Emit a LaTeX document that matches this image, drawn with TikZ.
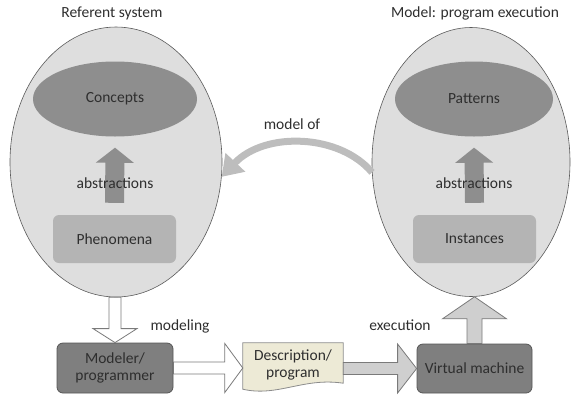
\documentclass[tikz,border=0pt]{standalone}
\usepackage{fontspec}
\setmainfont{Carlito}
\usetikzlibrary{shapes.geometric,calc,arrows.meta}

\definecolor{txtgray}{HTML}{2E2E2E}
\definecolor{worldgray}{HTML}{DEDEDE}
\definecolor{edgegray}{HTML}{5A5A5A}
\definecolor{ideagray}{HTML}{8E8E8E}
\definecolor{levelgray}{HTML}{B4B4B4}
\definecolor{actorgray}{HTML}{7F7F7F}
\definecolor{actoredge}{HTML}{555555}
\definecolor{docfill}{HTML}{EDEAD6}
\definecolor{docedge}{HTML}{8C8C8C}
\definecolor{flowgray}{HTML}{CFCFCF}
\definecolor{flowedge}{HTML}{7A7A7A}
\definecolor{arcgray}{HTML}{BDBDBD}

% block arrow: [style]{from}{to}{shaft half}{head half}{head length}
\newcommand{\blockarrow}[6][]{%
  \coordinate (ba-base) at ($(#3)!#6!(#2)$);
  \draw[#1] ($(#2)!#4!90:(#3)$) -- ($(ba-base)!#4!90:(#3)$) -- ($(ba-base)!#5!90:(#3)$) -- (#3)
    -- ($(ba-base)!#5!-90:(#3)$) -- ($(ba-base)!#4!-90:(#3)$) -- ($(#2)!#4!-90:(#3)$) -- cycle;}

\begin{document}
\begin{tikzpicture}[x=1pt,y=1pt,font=\fontsize{15.5}{17.5}\selectfont,text=txtgray,
    world/.style={ellipse,draw=edgegray,line width=0.6pt,fill=worldgray,inner sep=0pt},
    idea/.style={ellipse,fill=ideagray,inner sep=0pt,minimum height=75pt},
    level/.style={rectangle,rounded corners=6pt,fill=levelgray,minimum width=123pt,minimum height=48pt},
    actor/.style={rectangle,rounded corners=6pt,fill=actorgray,draw=actoredge,line width=0.8pt,
      minimum width=116pt,minimum height=50pt,align=center},
    rise/.style={fill=ideagray,draw=none},
    hollow/.style={fill=white,draw=flowedge,line width=0.8pt},
    solid/.style={fill=flowgray,draw=flowedge,line width=0.8pt}]
    \useasboundingbox (0,0) rectangle (572,-397);

    \node (ref) [world, minimum width=212pt, minimum height=270pt] at (116,-162) {};
    \node (mod) [world, minimum width=198pt, minimum height=269pt] at (471,-162) {};
    \node (reftitle) at (112,-13) {Referent system};
    \node (modtitle) at (475,-13) {Model: program execution};

    \node (concepts) [idea, minimum width=164pt] at (115,-99) {Concepts};
    \node (patterns) [idea, minimum width=158pt] at (474,-99) {Patterns};
    \node (phen) [level] at (114.5,-239) {Phenomena};
    \node (inst) [level] at (474.5,-239) {Instances};

    \coordinate (refbot) at ($(phen.north)+(0,12)$);
    \coordinate (reftop) at ($(concepts.south)+(0,-11)$);
    \coordinate (modbot) at ($(inst.north)+(0,12)$);
    \coordinate (modtop) at ($(patterns.south)+(0,-11)$);
    \blockarrow[rise]{refbot}{reftop}{9.5pt}{19pt}{15pt}
    \blockarrow[rise]{modbot}{modtop}{9.5pt}{19pt}{15pt}
    \node (refabs) at (115,-183) {abstractions};
    \node (modabs) at (474,-183) {abstractions};

    \draw[arcgray, line width=7pt, -{Triangle[width=26pt,length=20pt]}]
      (mod.186) .. controls (340,-134) and (265,-131) .. (ref.-8);
    \node (modelof) at (292,-124) {model of};

    \node (modeler) [actor] at (115,-368) {Modeler/\\programmer};
    \node (vm) [actor, minimum width=115pt, minimum height=49pt] at (474.5,-368.5) {Virtual machine};
    \node (desc) [minimum width=100pt, minimum height=40pt] at (293,-363) {};
    \filldraw[fill=docfill, draw=docedge, line width=0.8pt]
      (desc.south east) -- (desc.north east) -- (desc.north west) -- ($(desc.south west)+(0,-6)$)
      .. controls ($(desc.south west)+(35,-14)$) and ($(desc.south east)+(-40,6)$) .. (desc.south east) -- cycle;
    \node (desclabel) [align=center] at ($(desc)+(0,-2)$) {Description/\\program};

    \coordinate (modelstart) at (ref.south -| modeler.north);
    \blockarrow[hollow]{modelstart}{modeler.north}{6pt}{22pt}{14pt}
    \coordinate (descin) at (desc.west |- modeler.east);
    \blockarrow[hollow]{modeler.east}{descin}{6pt}{24.5pt}{18pt}
    \coordinate (descout) at (desc.east |- vm.west);
    \blockarrow[solid]{descout}{vm.west}{6pt}{24.5pt}{19pt}
    \coordinate (exectip) at (vm.north |- mod.south);
    \blockarrow[solid]{vm.north}{exectip}{7.5pt}{32pt}{22pt}

    \node (modeling) at (180,-326) {modeling};
    \node (execution) at (400,-325) {execution};
\end{tikzpicture}
\end{document}
